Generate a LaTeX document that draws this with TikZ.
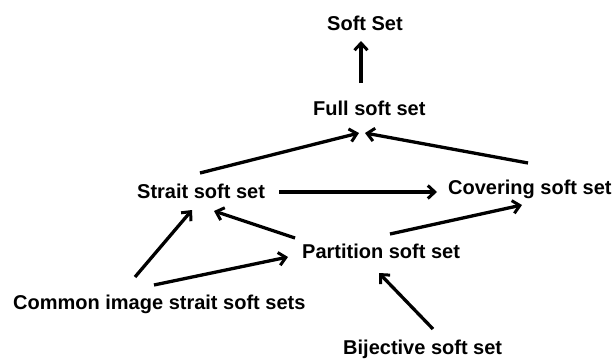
\documentclass[tikz,border=0pt]{standalone}
\usepackage{fontspec}
\setmainfont{Liberation Sans}
\usetikzlibrary{arrows.meta}
\begin{document}
\begin{tikzpicture}[x=1pt,y=-1pt,
  lbl/.style={anchor=base west,inner sep=0pt,font=\fontsize{20}{24}\selectfont\bfseries},
  arr/.style={line width=3.3pt,-{Straight Barb[length=7pt,width=13pt,line width=3pt]}}]
\useasboundingbox (0,0) rectangle (614,359);
% concept labels (y grows downwards)
\node[lbl] (soft)   at (327,30)  {Soft Set};
\node[lbl] (full)   at (313,115) {Full soft set};
\node[lbl] (strait) at (137,198) {Strait soft set};
\node[lbl] (cover)  at (448,194) {Covering soft set};
\node[lbl] (part)   at (302,258) {Partition soft set};
\node[lbl] (common) at (13,309)  {Common image strait soft sets};
\node[lbl] (bij)    at (343,354) {Bijective soft set};
% implications
\draw[arr] ([shift={(48,-32)}]full.base west)     -- ([shift={(34,11)}]soft.base west);
\draw[arr] ([shift={(63,-25)}]strait.base west)   -- ([shift={(46,18)}]full.base west);
\draw[arr] ([shift={(80,-31)}]cover.base west)    -- ([shift={(52,18)}]full.base west);
\draw[arr] ([shift={(142,-6)}]strait.base west)   -- ([shift={(-11,-2)}]cover.base west);
\draw[arr] ([shift={(-7,-20)}]part.base west)     -- ([shift={(77,13)}]strait.base west);
\draw[arr] ([shift={(88,-24)}]part.base west)     -- ([shift={(74,11)}]cover.base west);
\draw[arr] ([shift={(122,-32)}]common.base west)  -- ([shift={(55,12)}]strait.base west);
\draw[arr] ([shift={(141,-24)}]common.base west)  -- ([shift={(-14,-1)}]part.base west);
\draw[arr] ([shift={(90,-25)}]bij.base west)      -- ([shift={(77,15)}]part.base west);
\end{tikzpicture}
\end{document}
